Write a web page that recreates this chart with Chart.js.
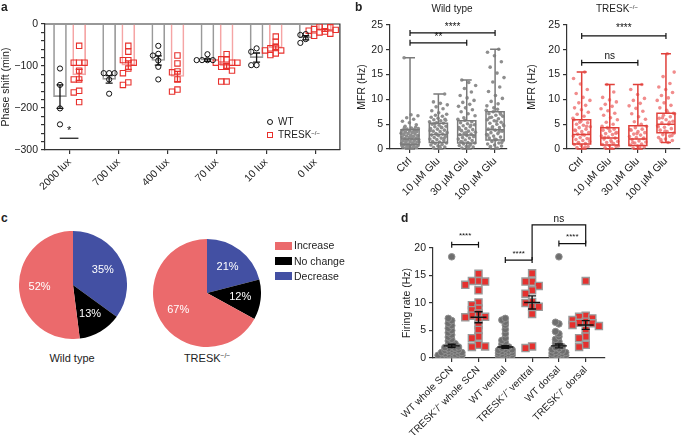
<!DOCTYPE html>
<html>
<head>
<meta charset="utf-8">
<script src="https://cdn.jsdelivr.net/npm/chart.js@4.4.1/dist/chart.umd.min.js"></script>
<style>
  body { margin: 0; background: #fff; font-family: 'Liberation Sans', Arial, sans-serif; color: #222; }
  #wrap { position: relative; width: 687px; height: 435px; overflow: hidden; }
  canvas { position: absolute; }
  .t { position: absolute; white-space: nowrap; line-height: 1; }
  .c { transform: translate(-50%, -50%); }
  .lbl { font-weight: bold; font-size: 12px; }
  sup { font-size: 0.6em; vertical-align: 0.55em; line-height: 0; }
  .mk { position: absolute; box-sizing: border-box; }
</style>
</head>
<body>
<div id="wrap">
  <canvas id="ca" width="345" height="210" style="left:0;top:0"></canvas>
  <canvas id="cb1" width="170" height="210" style="left:345px;top:0"></canvas>
  <canvas id="cb2" width="172" height="210" style="left:515px;top:0"></canvas>
  <canvas id="cc1" width="108" height="108" style="left:19px;top:231px"></canvas>
  <canvas id="cc2" width="108" height="108" style="left:153px;top:239px"></canvas>
  <canvas id="cd" width="342" height="225" style="left:345px;top:210px"></canvas>

  <div class="t lbl" style="left:1px;top:1px">a</div>
  <div class="t lbl" style="left:355px;top:1px">b</div>
  <div class="t lbl" style="left:1px;top:212px">c</div>
  <div class="t lbl" style="left:401px;top:212px">d</div>

  <div class="t c" style="left:452px;top:9px;font-size:10px">Wild type</div>
  <div class="t c" style="left:617px;top:9px;font-size:10px">TRESK<sup>&minus;/&minus;</sup></div>

  <div class="mk" style="left:267px;top:119px;width:6px;height:6px;border:1px solid #111;border-radius:50%"></div>
  <div class="t" style="left:278px;top:117px;font-size:10px">WT</div>
  <div class="mk" style="left:267px;top:132px;width:6px;height:6px;border:1.2px solid #e8302c"></div>
  <div class="t" style="left:278px;top:130px;font-size:10px">TRESK<sup>&minus;/&minus;</sup></div>

  <div class="t c" style="left:72px;top:358px;font-size:11px">Wild type</div>
  <div class="t c" style="left:207px;top:358px;font-size:11px">TRESK<sup>&minus;/&minus;</sup></div>
  <div id="pieLegend"></div>
</div>

<script>
// ---- panel a: phase shift ----
const luxLabels = ['2000 lux', '700 lux', '400 lux', '70 lux', '10 lux', '0 lux'];
const wtShift = [
  [-106, -145, -201, -239],
  [-117, -117, -117, -132, -166],
  [-52, -71, -75, -87, -102, -132],
  [-72, -86, -86, -86, -86],
  [-58, -66, -98, -98],
  [-24, -26, -36, -45]
];
const trShift = [
  [-52, -92, -92, -92, -111, -132, -132, -159, -163, -186],
  [-52, -66, -86, -86, -92, -106, -117, -139, -145],
  [-75, -94, -113, -115, -132, -156, -161],
  [-72, -84, -84, -92, -92, -92, -102, -102, -111, -137, -137],
  [-30, -42, -54, -58, -63, -63, -70, -74],
  [-5, -6, -8, -12, -14, -16, -18, -20, -23, -28]
];
const wtShiftMean = [-173, -132, -87, -86, -80, -33];
const wtShiftSem = [28, 9, 11, 3, 11, 5];
const trShiftMean = [-121, -98, -125, -100, -57, -15];
const trShiftSem = [13, 10, 12, 6, 5, 2.5];

// ---- panel b: MFR ----
const gluLabels = ['Ctrl', '10 \u00b5M Glu', '30 \u00b5M Glu', '100 \u00b5M Glu'];
const wtMfrCtrl = [0.1,0.2,0.3,0.4,0.4,0.5,0.6,0.7,0.8,0.9,1.0,1.0,1.1,1.2,1.3,1.4,1.5,1.6,1.7,1.8,1.9,2.0,2.1,2.2,2.3,2.4,2.5,2.6,2.7,2.8,2.9,3.0,3.1,3.2,3.3,3.4,3.5,3.6,3.8,3.9,4.0,4.1,4.2,4.3,4.4,0.3,0.7,1.2,1.6,2.1,2.6,3.0,3.5,0.5,1.4,2.4,4.6,4.9,5.3,5.6,6.0,6.3,6.7,6.9,18.4];
const wtMfr10 = [0.1,0.3,0.4,0.6,0.8,0.9,1.1,1.2,1.4,1.5,1.7,1.9,2.0,2.2,2.3,2.5,2.7,2.8,3.0,3.1,3.3,3.5,3.6,3.8,4.0,4.1,4.3,4.5,4.6,4.8,5.0,5.2,5.3,5.5,5.7,5.9,6.0,6.2,6.4,6.6,6.8,7.0,0.5,1.3,2.1,2.9,3.7,4.4,5.1,5.8,7.3,7.7,8.1,8.5,8.9,9.2,9.5,11.1];
const wtMfr30 = [0.1,0.2,0.4,0.5,0.7,0.9,1.0,1.2,1.3,1.5,1.7,1.8,2.0,2.2,2.3,2.5,2.7,2.9,3.0,3.2,3.4,3.6,3.7,3.9,4.1,4.3,4.5,4.7,4.9,5.1,5.3,5.5,5.8,6.0,0.6,1.4,2.6,3.3,4.0,4.8,6.3,6.7,7.1,7.5,7.9,8.3,8.6,9.0,9.4,9.8,10.3,10.8,11.5,12.2,12.8,13.4,13.9];
const wtMfr100 = [0.2,0.4,0.6,0.8,1.0,1.2,1.5,1.7,1.9,2.2,2.4,2.6,2.9,3.1,3.3,3.6,3.8,4.0,4.3,4.5,4.7,5.0,5.2,5.4,5.7,5.9,6.1,6.4,6.6,6.8,7.1,7.3,7.5,7.8,8.0,0.5,1.3,2.0,2.8,3.5,4.2,4.9,5.6,6.3,7.0,8.3,8.7,9.1,9.6,10.2,10.8,11.6,12.5,13.5,14.4,15.3,16.5,17.6,18.8,19.5,20.1];
const trMfrCtrl = [0.1,0.3,0.5,0.7,0.9,1.1,1.3,1.5,1.7,1.9,2.1,2.3,2.6,2.8,3.0,3.3,3.5,3.8,4.0,4.3,4.5,4.8,5.0,5.3,5.6,5.9,0.4,1.2,2.0,2.9,3.7,4.6,5.4,6.2,6.6,7.0,7.4,7.9,8.3,8.8,9.3,9.8,10.4,11.2,12.0,13.1,14.2,15.5];
const trMfr10 = [0.1,0.3,0.5,0.7,0.9,1.1,1.3,1.5,1.7,2.0,2.2,2.4,2.6,2.9,3.1,3.3,3.6,3.8,4.0,4.3,0.6,1.4,2.3,3.2,4.1,4.6,5.0,5.4,5.9,6.3,6.8,7.2,7.7,8.1,8.6,9.0,9.5,9.9,10.4,11.5,13.0];
const trMfr30 = [0.1,0.2,0.4,0.6,0.8,1.0,1.2,1.4,1.6,1.9,2.1,2.3,2.5,2.8,3.0,3.3,3.5,3.8,4.0,4.3,4.6,0.5,1.3,2.2,3.1,3.9,5.0,5.5,6.0,6.5,7.1,7.6,8.2,8.7,9.2,9.8,10.2,11.0,12.0,13.0];
const trMfr100 = [1.3,1.5,1.7,2.0,2.3,2.6,2.9,3.2,3.5,3.8,4.1,4.4,4.7,5.0,5.3,5.6,5.9,6.2,6.5,6.8,7.1,7.4,1.9,2.7,3.6,4.5,5.4,6.3,7.2,7.8,8.3,8.8,9.3,9.8,10.3,10.8,11.4,12.0,12.5,13.2,14.6,15.5,19.2];
// [min, q1, median, q3, max]
const wtMfrBox = [[0, 0.9, 2.0, 3.9, 18.4], [0, 1.3, 2.9, 5.2, 11.1], [0, 1.2, 2.8, 5.7, 13.9], [0, 1.8, 3.9, 7.5, 20.1]];
const trMfrBox = [[0, 1.0, 2.9, 5.9, 15.5], [0, 0.8, 2.2, 4.3, 13.0], [0, 0.7, 2.0, 4.7, 13.0], [1.3, 3.3, 5.0, 7.2, 19.2]];

// ---- panel c: response fractions ----
const pieCats = ['Decrease', 'No change', 'Increase'];
const pieColors = ['#4350a3', '#000000', '#eb6a6c'];
const wtPie = [35, 13, 52];
const trPie = [21, 12, 67];

// ---- panel d: firing rate ----
const dLabels = ['WT whole SCN', 'TRESK\u207b/\u207b whole SCN', 'WT ventral', 'TRESK\u207b/\u207b ventral', 'WT dorsal', 'TRESK\u207b/\u207b dorsal'];
const dWtWhole = [0.1,0.1,0.2,0.3,0.3,0.4,0.5,0.5,0.6,0.7,0.7,0.8,0.9,1.0,1.0,1.1,1.2,1.3,1.4,1.5,1.6,1.7,1.8,1.9,2.0,2.2,2.4,2.6,2.8,3.1,3.4,3.8,4.2,4.6,5.0,5.4,5.9,6.3,6.8,7.2,18.4];
const dTrWhole = [15.3,14.0,14.0,13.9,13.3,12.3,10.1,9.6,9.0,8.7,8.1,7.7,7.5,7.4,6.9,6.0,5.1,3.9,3.6,2.4,2.0,2.1];
const dWtVentral = [0.1,0.2,0.3,0.4,0.5,0.6,0.7,0.8,0.9,1.0,1.1,1.2,1.3,1.4,1.5,1.6,1.8,2.0,2.2,2.5,2.8,3.2,3.6,4.4,5.2,6.0,6.5,6.9,7.2];
const dTrVentral = [15.4,13.9,13.9,13.1,12.3,11.7,10.2,10.0,9.3,9.3,8.0,2.1,1.8];
const dWtDorsal = [0.1,0.2,0.3,0.4,0.5,0.6,0.7,0.8,0.9,1.0,1.1,1.2,1.3,1.5,1.7,1.9,2.1,2.4,2.7,3.0,3.4,3.9,4.4,4.8,6.2,6.5,18.4];
const dTrDorsal = [14.0,7.7,7.5,7.2,6.9,6.6,6.4,6.3,6.0,5.8,5.1,3.9,3.6,2.4,2.0];
const dMean = [2.2, 7.4, 2.0, 10.1, 2.2, 6.0];
const dSem = [0.3, 1.0, 0.25, 1.2, 0.35, 0.8];

Chart.defaults.font.family = "'Liberation Sans', Arial, sans-serif";
Chart.defaults.font.size = 10;
Chart.defaults.color = '#222';
Chart.defaults.animation = false;
Chart.defaults.responsive = false;
Chart.defaults.devicePixelRatio = 1;
Chart.defaults.events = [];
Chart.defaults.plugins.legend.display = false;
Chart.defaults.plugins.tooltip.enabled = false;

const minus = v => v < 0 ? '\u2212' + Math.abs(v) : String(v);
const tickGrid = () => ({ display: true, drawOnChartArea: false, drawTicks: true, tickLength: 4, color: '#333', lineWidth: 1.2, offset: false });
const axisBorder = () => ({ display: true, color: '#333', width: 1.2 });

// simple beeswarm: spread points that would overlap sideways (px offsets)
function swarm(vals, yPx, d, dy) {
  const placed = [];
  return vals.map(v => {
    const y = v * yPx;
    for (let k = 0; k < 60; k++) {
      const off = (k % 2 ? -1 : 1) * Math.ceil(k / 2) * d;
      if (placed.every(p => Math.abs(p.y - y) >= dy || Math.abs(p.x - off) >= d * 0.9)) {
        placed.push({ x: off, y });
        return off;
      }
    }
    return 0;
  });
}
function swarmPts(vals, center, yPx, d, dy, xPx) {
  const off = swarm(vals, yPx, d, dy);
  return vals.map((v, k) => ({ x: center + off[k] / xPx, y: v }));
}
function jitterPts(vals, center, half) {
  return vals.map((v, k) => ({ x: center + ((((k + 1) * 0.6180339887) % 1) - 0.5) * 2 * half, y: v }));
}

function errPlugin(items) {
  return {
    id: 'err',
    afterDatasetsDraw(chart) {
      const { ctx } = chart, xs = chart.scales.x, y = chart.scales.y;
      items.forEach(it => {
        const x = xs.getPixelForValue(it.x);
        const y1 = y.getPixelForValue(it.m + it.s), y2 = y.getPixelForValue(it.m - it.s), ym = y.getPixelForValue(it.m);
        ctx.save();
        ctx.strokeStyle = it.c; ctx.lineWidth = it.w || 1.3;
        ctx.beginPath();
        ctx.moveTo(x, y1); ctx.lineTo(x, y2);
        ctx.moveTo(x - it.cap, y1); ctx.lineTo(x + it.cap, y1);
        ctx.moveTo(x - it.cap, y2); ctx.lineTo(x + it.cap, y2);
        if (it.mw) { ctx.moveTo(x - it.mw, ym); ctx.lineTo(x + it.mw, ym); }
        ctx.stroke();
        ctx.restore();
      });
    }
  };
}

function bracketPlugin(items, fontSize) {
  return {
    id: 'brackets',
    afterDatasetsDraw(chart) {
      const { ctx } = chart, xs = chart.scales.x, y = chart.scales.y;
      items.forEach(b => {
        ctx.save();
        ctx.strokeStyle = '#111'; ctx.lineWidth = 1.2;
        ctx.beginPath();
        if (b.path) {
          b.path.forEach((p, k) => {
            const px = xs.getPixelForValue(p[0]), py = y.getPixelForValue(p[1]);
            if (k) ctx.lineTo(px, py); else ctx.moveTo(px, py);
          });
        } else {
          const x1 = xs.getPixelForValue(b.x1), x2 = xs.getPixelForValue(b.x2), yy = y.getPixelForValue(b.y);
          ctx.moveTo(x1, yy); ctx.lineTo(x2, yy);
          if (b.cap) {
            ctx.moveTo(x1, yy - b.cap); ctx.lineTo(x1, yy + b.cap);
            ctx.moveTo(x2, yy - b.cap); ctx.lineTo(x2, yy + b.cap);
          }
        }
        ctx.stroke();
        ctx.fillStyle = '#111';
        ctx.font = (b.size || fontSize) + "px 'Liberation Sans', Arial, sans-serif";
        ctx.textAlign = 'center'; ctx.textBaseline = 'middle';
        ctx.fillText(b.text, xs.getPixelForValue(b.tx), y.getPixelForValue(b.ty));
        ctx.restore();
      });
    }
  };
}

function boxPlugin(stats, color, half, cap) {
  return {
    id: 'boxes',
    afterDatasetsDraw(chart) {
      const { ctx } = chart, xs = chart.scales.x, y = chart.scales.y;
      stats.forEach((s, i) => {
        const xc = xs.getPixelForValue(i), xl = xs.getPixelForValue(i - half), xr = xs.getPixelForValue(i + half);
        const [mn, q1, md, q3, mx] = s.map(v => y.getPixelForValue(v));
        ctx.save();
        ctx.strokeStyle = color; ctx.lineWidth = 1.5;
        ctx.beginPath();
        ctx.moveTo(xc, mx); ctx.lineTo(xc, q3);
        ctx.moveTo(xc, q1); ctx.lineTo(xc, mn);
        ctx.moveTo(xc - cap, mx); ctx.lineTo(xc + cap, mx);
        ctx.moveTo(xc - cap, mn); ctx.lineTo(xc + cap, mn);
        ctx.moveTo(xl, md); ctx.lineTo(xr, md);
        ctx.rect(xl, q3, xr - xl, q1 - q3);
        ctx.stroke();
        ctx.restore();
      });
    }
  };
}

// category-like linear x axis: ticks at 0..n-1 labelled from a list
function catAxis(labels, min, max, height, fontSize) {
  return {
    type: 'linear', min, max, offset: false,
    afterFit: s => { s.height = height; },
    afterBuildTicks: s => { s.ticks = labels.map((_, i) => ({ value: i })); },
    grid: tickGrid(), border: axisBorder(),
    ticks: { font: { size: fontSize }, minRotation: 45, maxRotation: 45, autoSkip: false, padding: 2, callback: v => labels[v] }
  };
}

// ---------------- panel a ----------------
const aOff = 0.195;
const aErr = [];
luxLabels.forEach((_, i) => {
  aErr.push({ x: i - aOff, m: wtShiftMean[i], s: wtShiftSem[i], c: '#111', cap: 3.5 });
  aErr.push({ x: i + aOff, m: trShiftMean[i], s: trShiftSem[i], c: '#e8302c', cap: 3.5 });
});
const aFrame = {
  id: 'frame',
  beforeDatasetsDraw(chart) {
    const { ctx, chartArea: a } = chart;
    ctx.save(); ctx.strokeStyle = '#333'; ctx.lineWidth = 1.2;
    ctx.beginPath(); ctx.moveTo(a.left, a.top); ctx.lineTo(a.right, a.top); ctx.lineTo(a.right, a.bottom); ctx.stroke();
    ctx.restore();
  }
};
new Chart(document.getElementById('ca'), {
  type: 'bar',
  data: {
    datasets: [
      { label: 'WT', data: wtShiftMean.map((m, i) => ({ x: i - aOff, y: m })), backgroundColor: 'rgba(0,0,0,0)',
        borderColor: '#9a9a9a', borderWidth: 1, barThickness: 13, grouped: false, order: 3 },
      { label: 'TRESK', data: trShiftMean.map((m, i) => ({ x: i + aOff, y: m })), backgroundColor: 'rgba(0,0,0,0)',
        borderColor: '#f5a5a5', borderWidth: 1, barThickness: 13, grouped: false, order: 3 },
      { type: 'scatter', order: 1, data: wtShift.flatMap((g, i) => swarmPts(g, i - aOff, 0.42, 5.4, 5, 49.2)),
        pointStyle: 'circle', pointRadius: 2.6, borderColor: '#111', backgroundColor: 'rgba(0,0,0,0)', borderWidth: 1 },
      { type: 'scatter', order: 1, data: trShift.flatMap((g, i) => swarmPts(g, i + aOff, 0.42, 5.4, 5, 49.2)),
        pointStyle: 'rect', pointRadius: 3.8, borderColor: '#e8302c', backgroundColor: 'rgba(255,255,255,0)', borderWidth: 1.1 }
    ]
  },
  options: {
    layout: { padding: { left: 0, top: 24, right: 5, bottom: 0 } },
    scales: {
      x: catAxis(luxLabels, -0.5, 5.5, 60, 10.5),
      y: {
        min: -300, max: 0,
        afterFit: s => { s.width = 45; },
        grid: tickGrid(), border: axisBorder(),
        ticks: { stepSize: 20, autoSkip: false, font: { size: 10.5 }, padding: 3, callback: v => v % 100 === 0 ? minus(v) : '' },
        title: { display: true, text: 'Phase shift (min)', font: { size: 10.5 }, padding: { top: 0, bottom: 0 } }
      }
    }
  },
  plugins: [aFrame, errPlugin(aErr), bracketPlugin([{ x1: -0.2, x2: 0.18, y: -272, text: '*', tx: -0.01, ty: -255 }], 11)]
});

// ---------------- panel b ----------------
function mfrChart(id, groups, box, dotColor, boxColor, yWidth, xMin, xMax, padRight, brackets) {
  new Chart(document.getElementById(id), {
    type: 'scatter',
    data: {
      datasets: groups.map((g, i) => ({
        data: jitterPts(g, i, 0.32), pointRadius: 1.8, pointBorderWidth: 0,
        backgroundColor: dotColor, borderColor: dotColor
      }))
    },
    options: {
      layout: { padding: { left: 0, top: 25, right: padRight, bottom: 0 } },
      scales: {
        x: catAxis(gluLabels, xMin, xMax, 61, 10.5),
        y: {
          min: 0, max: 25,
          afterFit: s => { s.width = yWidth; },
          grid: tickGrid(), border: axisBorder(),
          ticks: { stepSize: 5, font: { size: 10.5 }, padding: 3 },
          title: { display: true, text: 'MFR (Hz)', font: { size: 10.5 }, padding: { top: 11, bottom: 0 } }
        }
      }
    },
    plugins: [boxPlugin(box, boxColor, 0.32, 5), bracketPlugin(brackets, 10)]
  });
}
mfrChart('cb1', [wtMfrCtrl, wtMfr10, wtMfr30, wtMfr100], wtMfrBox, '#8e8e8e', '#7a7a7a', 45, -0.706, 3.42, 8, [
  { x1: 0, x2: 3, y: 23.4, cap: 3, text: '****', tx: 1.5, ty: 24.6 },
  { x1: 0, x2: 2, y: 21.4, cap: 3, text: '**', tx: 1, ty: 22.6 }
]);
mfrChart('cb2', [trMfrCtrl, trMfr10, trMfr30, trMfr100], trMfrBox, 'rgba(238,120,120,0.85)', '#e0403a', 52, -0.523, 3.5, 7, [
  { x1: 0, x2: 3, y: 22.8, cap: 3, text: '****', tx: 1.5, ty: 24.3 },
  { x1: 0, x2: 2, y: 17.4, cap: 3, text: 'ns', tx: 1, ty: 18.8 }
]);

// ---------------- panel c ----------------
const pieLabelPlugin = {
  id: 'pieLabels',
  afterDatasetsDraw(chart) {
    const { ctx } = chart;
    const ds = chart.data.datasets[0];
    chart.getDatasetMeta(0).data.forEach((arc, k) => {
      const mid = (arc.startAngle + arc.endAngle) / 2, r = arc.outerRadius * 0.62;
      ctx.save();
      ctx.fillStyle = '#fff';
      ctx.font = "11px 'Liberation Sans', Arial, sans-serif";
      ctx.textAlign = 'center'; ctx.textBaseline = 'middle';
      ctx.fillText(ds.data[k] + '%', arc.x + Math.cos(mid) * r, arc.y + Math.sin(mid) * r);
      ctx.restore();
    });
  }
};
[['cc1', wtPie], ['cc2', trPie]].forEach(([id, vals]) => {
  new Chart(document.getElementById(id), {
    type: 'pie',
    data: { labels: pieCats, datasets: [{ data: vals, backgroundColor: pieColors, borderWidth: 0, hoverOffset: 0 }] },
    options: { layout: { padding: 0 } },
    plugins: [pieLabelPlugin]
  });
});
// legend: Increase, No change, Decrease
const legendRows = [2, 1, 0];
const legendY = [245.5, 261, 276.3];
document.getElementById('pieLegend').innerHTML = legendRows.map((k, r) =>
  `<div class="mk" style="left:275px;top:${legendY[r] - 4}px;width:17px;height:8px;background:${pieColors[k]}"></div>` +
  `<div class="t" style="left:294px;top:${legendY[r] - 5.5}px;font-size:10.5px">${pieCats[k]}</div>`
).join('');

// ---------------- panel d ----------------
const dGroups = [dWtWhole, dTrWhole, dWtVentral, dTrVentral, dWtDorsal, dTrDorsal];
const dErr = dMean.map((m, i) => ({ x: i, m, s: dSem[i], c: '#111', cap: 4, mw: 8, w: 1.4 }));
new Chart(document.getElementById('cd'), {
  type: 'scatter',
  data: {
    datasets: dGroups.map((g, i) => i % 2 === 0
      ? { data: swarmPts(g, i, 5.53, 3.4, 2.6, 26.8), pointStyle: 'circle', pointRadius: 3.3, backgroundColor: '#6e6e6e', borderColor: '#8f8f8f', borderWidth: 1 }
      : { data: swarmPts(g, i, 5.53, 6.6, 4.5, 26.8), pointStyle: 'rect', pointRadius: 5, backgroundColor: '#e5302e', borderColor: '#9a9a9a', borderWidth: 1.4 })
  },
  options: {
    layout: { padding: { left: 50, top: 38, right: 82, bottom: 0 } },
    scales: {
      x: catAxis(dLabels, -0.698, 5.72, 77, 10),
      y: {
        min: 0, max: 20,
        afterFit: s => { s.width = 38; },
        grid: tickGrid(), border: axisBorder(),
        ticks: { stepSize: 5, font: { size: 10.5 }, padding: 3 },
        title: { display: true, text: 'Firing rate (Hz)', font: { size: 10.5 }, padding: { top: 6, bottom: 0 } }
      }
    }
  },
  plugins: [errPlugin(dErr), bracketPlugin([
    { x1: 0, x2: 1, y: 20.6, cap: 3, text: '****', tx: 0.5, ty: 22.3, size: 8 },
    { x1: 2, x2: 3, y: 17.8, cap: 3, text: '****', tx: 2.5, ty: 19.0, size: 8 },
    { x1: 4, x2: 5, y: 20.8, cap: 3, text: '****', tx: 4.5, ty: 22.0, size: 8 },
    { path: [[3, 17.8], [3, 24.2], [5, 24.2], [5, 20.8]], text: 'ns', tx: 4, ty: 25.3, size: 10 }
  ], 10)]
});
</script>
</body>
</html>
